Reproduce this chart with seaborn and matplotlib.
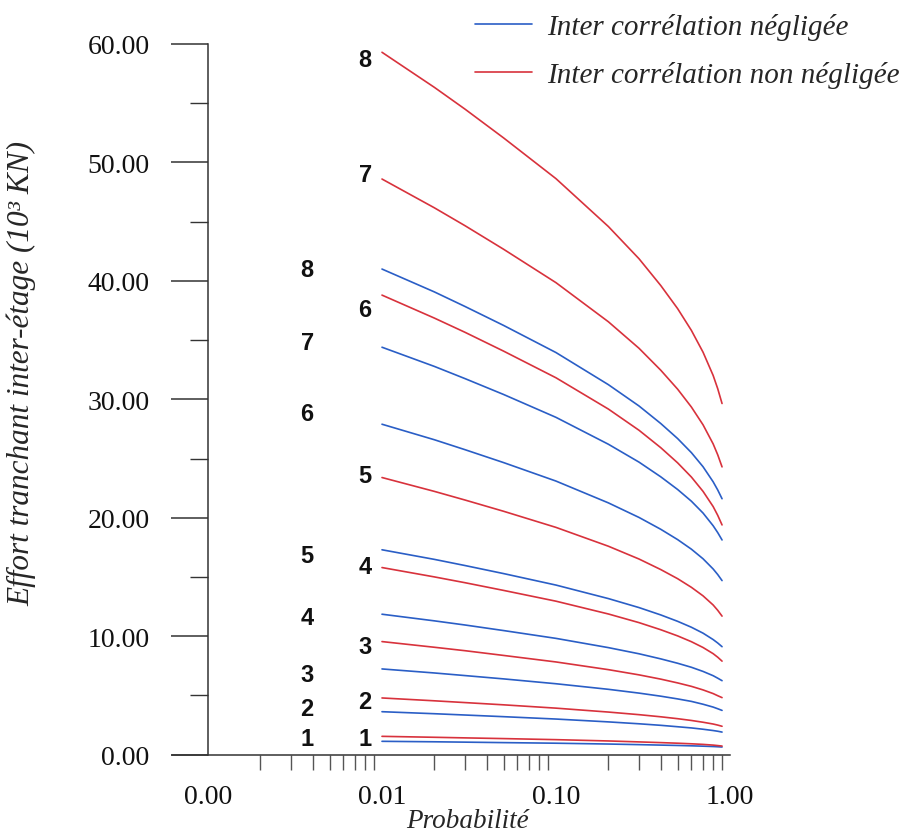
import numpy as np
import pandas as pd
import matplotlib
matplotlib.use("Agg")
import matplotlib.pyplot as plt
from matplotlib.lines import Line2D
from matplotlib.ticker import FixedLocator, NullFormatter
import seaborn as sns

# ---------------- data ----------------
prob = [0.01, 0.02, 0.03, 0.05, 0.1, 0.2, 0.3, 0.4, 0.5, 0.6, 0.7, 0.8, 0.85, 0.9]

# "Inter corrélation non négligée" (red), stories 1..8
red_1 = [1.55, 1.47, 1.42, 1.36, 1.27, 1.16, 1.08, 1.02, 0.97, 0.92, 0.87, 0.81, 0.77, 0.73]
red_2 = [4.79, 4.55, 4.40, 4.21, 3.93, 3.60, 3.38, 3.20, 3.04, 2.89, 2.74, 2.59, 2.50, 2.40]
red_3 = [9.55, 9.07, 8.78, 8.38, 7.83, 7.18, 6.74, 6.38, 6.06, 5.77, 5.47, 5.16, 4.98, 4.82]
red_4 = [15.8, 15.01, 14.52, 13.87, 12.96, 11.88, 11.15, 10.55, 10.03, 9.54, 9.05, 8.53, 8.23, 7.9]
red_5 = [23.4, 22.23, 21.50, 20.55, 19.19, 17.60, 16.52, 15.63, 14.86, 14.13, 13.41, 12.64, 12.19, 11.7]
red_6 = [38.8, 36.86, 35.66, 34.07, 31.82, 29.18, 27.39, 25.92, 24.64, 23.44, 22.23, 20.95, 20.21, 19.4]
red_7 = [48.6, 46.17, 44.66, 42.67, 39.85, 36.55, 34.31, 32.46, 30.86, 29.35, 27.85, 26.24, 25.32, 24.3]
red_8 = [59.3, 56.34, 54.50, 52.07, 48.63, 44.59, 41.87, 39.61, 37.66, 35.82, 33.98, 32.02, 30.90, 29.65]

# "Inter corrélation négligée" (blue), stories 1..8
blue_1 = [1.13, 1.09, 1.06, 1.02, 0.97, 0.90, 0.85, 0.81, 0.78, 0.75, 0.72, 0.69, 0.67, 0.65]
blue_2 = [3.63, 3.46, 3.35, 3.21, 3.01, 2.77, 2.61, 2.48, 2.36, 2.26, 2.15, 2.04, 1.98, 1.91]
blue_3 = [7.24, 6.90, 6.68, 6.40, 5.99, 5.52, 5.20, 4.94, 4.71, 4.50, 4.26, 4.02, 3.88, 3.74]
blue_4 = [11.86, 11.30, 10.95, 10.48, 9.82, 9.04, 8.52, 8.09, 7.72, 7.38, 7.03, 6.67, 6.46, 6.25]
blue_5 = [17.3, 16.49, 15.97, 15.29, 14.32, 13.18, 12.42, 11.80, 11.26, 10.76, 10.26, 9.72, 9.43, 9.12]
blue_6 = [27.9, 26.59, 25.75, 24.66, 23.10, 21.26, 20.03, 19.03, 18.16, 17.35, 16.54, 15.68, 15.21, 14.70]
blue_7 = [34.4, 32.78, 31.75, 30.41, 28.48, 26.21, 24.70, 23.46, 22.39, 21.40, 20.40, 19.33, 18.75, 18.13]
blue_8 = [41.0, 39.07, 37.84, 36.24, 33.95, 31.24, 29.44, 27.96, 26.69, 25.50, 24.31, 23.04, 22.35, 21.61]

red_series = [red_1, red_2, red_3, red_4, red_5, red_6, red_7, red_8]
blue_series = [blue_1, blue_2, blue_3, blue_4, blue_5, blue_6, blue_7, blue_8]

story_labels = ["1", "2", "3", "4", "5", "6", "7", "8"]
blue_label_y = [1.33, 3.86, 6.73, 11.6, 16.8, 28.8, 34.8, 41.0]
red_label_y = [1.33, 4.45, 9.1, 15.9, 23.6, 37.6, 49.0, 58.7]

legend_blue = "Inter corrélation négligée"
legend_red = "Inter corrélation non négligée"
ylabel_txt = "Effort tranchant inter-étage (10³ KN)"
xlabel_txt = "Probabilité"
ytick_vals = [0, 10, 20, 30, 40, 50, 60]
ytick_labels = ["0.00", "10.00", "20.00", "30.00", "40.00", "50.00", "60.00"]
xtick_vals = [0.001, 0.01, 0.1, 1.0]
xtick_labels = ["0.00", "0.01", "0.10", "1.00"]

# ---------------- build long table ----------------
rows = []
for kind, series in (("blue", blue_series), ("red", red_series)):
    for i, vals in enumerate(series):
        for p, v in zip(prob, vals):
            rows.append({"p": p, "v": v, "kind": kind, "story": f"{kind}{i + 1}"})
df = pd.DataFrame(rows)

# ---------------- plot ----------------
sns.set_theme(style="white")
plt.rcParams["font.family"] = ["Liberation Serif", "DejaVu Serif"]

BLUE = "#2a5ec6"
RED = "#d8323c"

fig = plt.figure(figsize=(9.08, 8.37), dpi=100)
ax = fig.add_axes([172 / 908, 1 - 755.7 / 837, (730 - 172) / 908, (755.7 - 45) / 837])

sns.lineplot(data=df, x="p", y="v", hue="kind", units="story", estimator=None,
             palette={"blue": BLUE, "red": RED}, linewidth=1.2, legend=False,
             sort=True, ax=ax)

ax.set_xscale("log")
ax.set_xlim(10 ** (-3 - 36 / 174), 1.0)
ax.set_ylim(0, 60)

# spines
ax.spines["top"].set_visible(False)
ax.spines["right"].set_visible(False)
ax.spines["left"].set_position(("data", 0.001))
for s in ("left", "bottom"):
    ax.spines[s].set_color("#333333")
    ax.spines[s].set_linewidth(1.1)

# y ticks
ax.yaxis.set_major_locator(FixedLocator(ytick_vals))
ax.set_yticklabels(ytick_labels)
ax.yaxis.set_minor_locator(FixedLocator([5, 15, 25, 35, 45, 55]))
ax.tick_params(axis="y", which="major", direction="out", length=27, width=1.1,
               color="#333333", pad=15, labelsize=20, left=True)
ax.tick_params(axis="y", which="minor", direction="out", length=13, width=1.0,
               color="#333333", left=True)

# x ticks
ax.xaxis.set_major_locator(FixedLocator(xtick_vals))
ax.set_xticklabels(xtick_labels)
minor_x = [m * 10.0 ** e for e in (-3, -2, -1) for m in range(2, 10)]
ax.xaxis.set_minor_locator(FixedLocator(minor_x))
ax.xaxis.set_minor_formatter(NullFormatter())
ax.tick_params(axis="x", which="major", direction="out", length=0, pad=21,
               labelsize=20, bottom=True)
ax.tick_params(axis="x", which="minor", direction="out", length=11, width=1.0,
               color="#555555", bottom=True)

for lab in ax.get_xticklabels() + ax.get_yticklabels():
    lab.set_color("#111111")

# axis labels
ax.set_xlabel(xlabel_txt, fontsize=19.5, style="italic")
ax.set_ylabel(ylabel_txt, fontsize=22.5, style="italic")
ax.yaxis.set_label_coords(-0.243, 0.538)
ax.xaxis.set_label_coords(0.529, -0.075)

# story labels
for lab, yb, yr in zip(story_labels, blue_label_y, red_label_y):
    ax.text(0.00371, yb, lab, ha="center", va="center", fontsize=17,
            fontweight="bold", family=["Liberation Sans", "DejaVu Sans"], color="#111111")
    ax.text(0.0080, yr, lab, ha="center", va="center", fontsize=17,
            fontweight="bold", family=["Liberation Sans", "DejaVu Sans"], color="#111111")

# legend
handles = [Line2D([], [], color=BLUE, lw=1.2), Line2D([], [], color=RED, lw=1.2)]
leg = fig.legend(handles, [legend_blue, legend_red], loc="upper left",
                 bbox_to_anchor=(475 / 908, 1 - 14 / 837), frameon=False,
                 prop={"family": "Liberation Serif", "style": "italic", "size": 21},
                 handlelength=1.97, handletextpad=0.5, labelspacing=0.72,
                 borderpad=0, borderaxespad=0)

fig.savefig("out.png", dpi=100, facecolor="white")
